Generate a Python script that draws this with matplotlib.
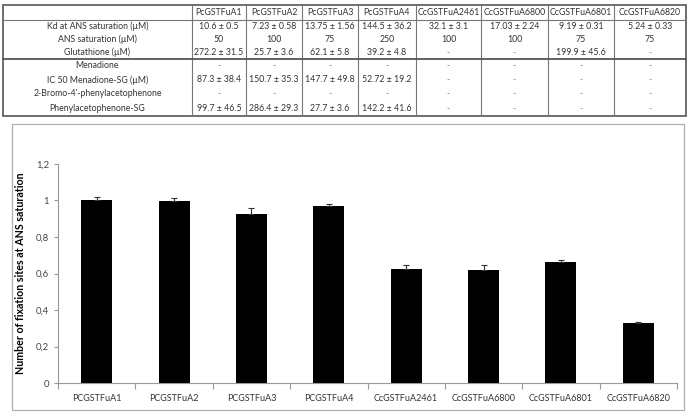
import matplotlib.pyplot as plt
from matplotlib.lines import Line2D

# table data
col_headers = ['PcGSTFuA1', 'PcGSTFuA2', 'PcGSTFuA3', 'PcGSTFuA4',
               'CcGSTFuA2461', 'CcGSTFuA6800', 'CcGSTFuA6801', 'CcGSTFuA6820']
row_labels = ['Kd at ANS saturation (µM)', 'ANS saturation (µM)', 'Glutathione (µM)',
              'Menadione', 'IC 50 Menadione-SG (µM)', "2-Bromo-4'-phenylacetophenone",
              'Phenylacetophenone-SG']
cells = [
    ['10.6 ± 0.5', '7.23 ± 0.58', '13.75 ± 1.56', '144.5 ± 36.2', '32.1 ± 3.1', '17.03 ± 2.24', '9.19 ± 0.31', '5.24 ± 0.33'],
    ['50', '100', '75', '250', '100', '100', '75', '75'],
    ['272.2 ± 31.5', '25.7 ± 3.6', '62.1 ± 5.8', '39.2 ± 4.8', '-', '-', '199.9 ± 45.6', '-'],
    ['-', '-', '-', '-', '-', '-', '-', '-'],
    ['87.3 ± 38.4', '150.7 ± 35.3', '147.7 ± 49.8', '52.72 ± 19.2', '-', '-', '-', '-'],
    ['-', '-', '-', '-', '-', '-', '-', '-'],
    ['99.7 ± 46.5', '286.4 ± 29.3', '27.7 ± 3.6', '142.2 ± 41.6', '-', '-', '-', '-'],
]

# bar chart data
strains = ['PCGSTFuA1', 'PCGSTFuA2', 'PCGSTFuA3', 'PCGSTFuA4',
           'CcGSTFuA2461', 'CcGSTFuA6800', 'CcGSTFuA6801', 'CcGSTFuA6820']
sites = [1.005, 0.995, 0.928, 0.968, 0.626, 0.617, 0.661, 0.329]
sites_err = [0.015, 0.02, 0.03, 0.014, 0.022, 0.031, 0.011, 0.004]

plt.rcParams['font.family'] = ['Lato', 'DejaVu Sans']

W, H = 690, 415
fig = plt.figure(figsize=(W / 100, H / 100), dpi=100)

# ---- table, drawn in pixel coordinates ----
tab = fig.add_axes([0, 0, 1, 1])
tab.set_xlim(0, W)
tab.set_ylim(H, 0)
tab.axis('off')

col_x = [3, 192, 246, 302, 358, 416, 481, 548, 614, 686]
row_y = [5, 20, 33, 46, 59, 73, 87, 101, 116]
txt = '#333333'
fs = 6.3

for j, h in enumerate(col_headers):
    tab.text((col_x[j + 1] + col_x[j + 2]) / 2, (row_y[0] + row_y[1]) / 2, h,
             ha='center', va='center', fontsize=fs, color=txt)
for i, lab in enumerate(row_labels):
    yc = (row_y[i + 1] + row_y[i + 2]) / 2
    tab.text((col_x[0] + col_x[1]) / 2, yc, lab, ha='center', va='center', fontsize=fs, color=txt)
    for j, v in enumerate(cells[i]):
        tab.text((col_x[j + 1] + col_x[j + 2]) / 2, yc, v, ha='center', va='center',
                 fontsize=fs, color=txt if v != '-' else '#888888')

lc = '#777777'
for x in col_x[1:-1]:
    tab.add_line(Line2D([x, x], [row_y[0], row_y[-1]], color=lc, lw=0.8))
tab.add_line(Line2D([col_x[0], col_x[-1]], [row_y[1], row_y[1]], color=lc, lw=0.8))
tab.add_line(Line2D([col_x[0], col_x[-1]], [row_y[4], row_y[4]], color='#555555', lw=1.3))
tab.add_patch(plt.Rectangle((col_x[0], row_y[0]), col_x[-1] - col_x[0], row_y[-1] - row_y[0],
                            fill=False, edgecolor='#555555', lw=1.2))

# chart frame
tab.add_patch(plt.Rectangle((12, 124), 672, 286, fill=False, edgecolor='#b0b0b0', lw=0.9))

# ---- bar chart ----
ax = fig.add_axes([58 / W, (H - 383) / H, (677 - 58) / W, (383 - 164) / H])
pos = list(range(len(strains)))
ax.bar(pos, sites, width=0.4, color='black', zorder=2)
ax.errorbar(pos, sites, yerr=[[0] * len(sites), sites_err], fmt='none',
            ecolor='#333333', elinewidth=0.8, capsize=2.5, capthick=0.8, zorder=3)

ax.set_xlim(-0.5, len(strains) - 0.5)
ax.set_ylim(0, 1.2)
ax.set_yticks([0, 0.2, 0.4, 0.6, 0.8, 1.0, 1.2])
ax.set_yticklabels(['0', '0,2', '0,4', '0,6', '0,8', '1', '1,2'])
ax.set_xticks(pos)
ax.set_xticklabels(strains)
ax.set_xticks([p - 0.5 for p in pos] + [len(strains) - 0.5], minor=True)
ax.tick_params(axis='x', which='major', length=0, pad=8, labelsize=6.5, labelcolor='#333333')
ax.tick_params(axis='x', which='minor', length=4, color='#999999', width=0.8)
ax.tick_params(axis='y', length=3, color='#999999', width=0.8, labelsize=6.8, labelcolor='#444444')
for s in ['top', 'right']:
    ax.spines[s].set_visible(False)
for s in ['left', 'bottom']:
    ax.spines[s].set_color('#999999')
    ax.spines[s].set_linewidth(0.8)
ax.set_ylabel('Number of fixation sites at ANS saturation', fontsize=7.7, fontweight='bold')
ax.yaxis.set_label_coords(-0.052, 0.5)

fig.savefig('out.png', dpi=100)
